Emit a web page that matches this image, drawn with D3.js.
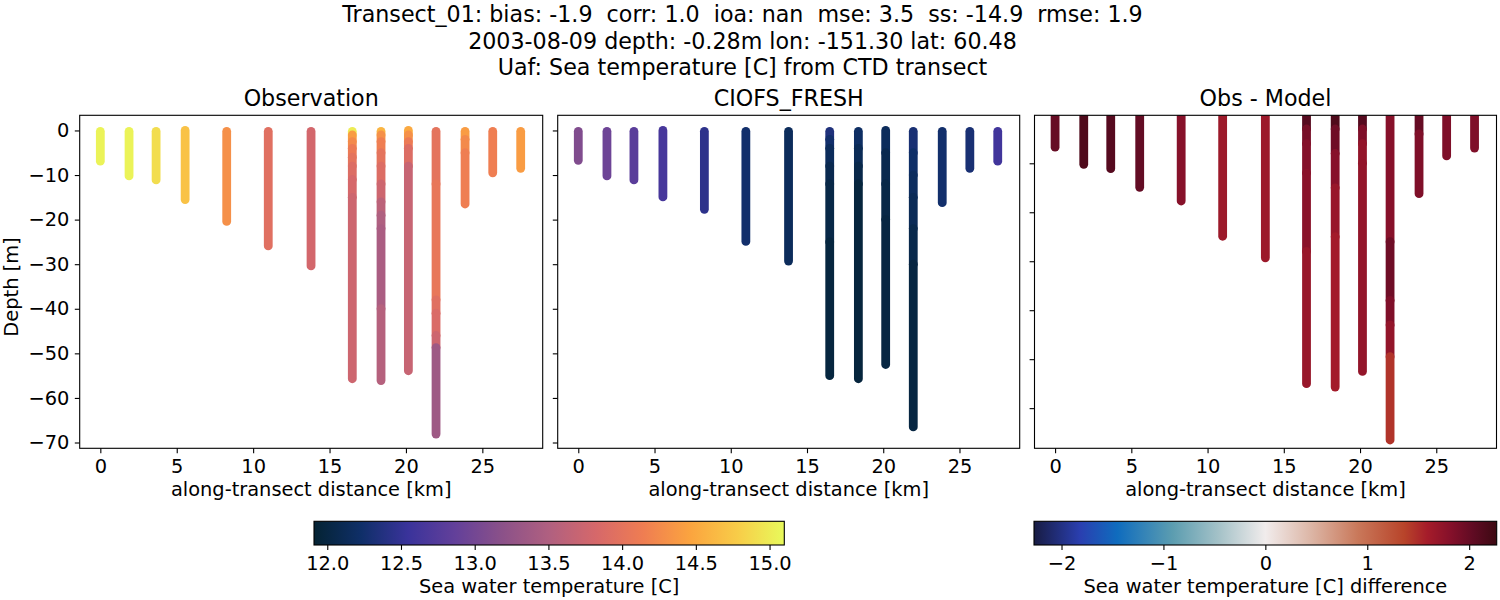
<!DOCTYPE html>
<html>
<head>
<meta charset="utf-8">
<script src="https://cdn.jsdelivr.net/npm/d3@7"></script>
<style>
body { margin: 0; background: #fff; }
text { font-family: "DejaVu Sans"; fill: #000; white-space: pre; }
</style>
</head>
<body>
<div id="canvas"></div>
<script>
var width = 1500;
var height = 600;

const titleLines = [
  "Transect_01: bias: -1.9  corr: 1.0  ioa: nan  mse: 3.5  ss: -14.9  rmse: 1.9",
  "2003-08-09 depth: -0.28m lon: -151.30 lat: 60.48",
  "Uaf: Sea temperature [C] from CTD transect"
];

// along-transect distance of each cast [km]
const stationKm = [0, 1.88, 3.65, 5.55, 8.27, 10.99, 13.79, 16.49, 18.37, 20.16, 21.97, 23.87, 25.68, 27.51];
const surfaceDepth = [-0.2, -0.2, -0.2, 0, -0.2, -0.2, -0.2, -0.2, -0.2, 0, -0.2, -0.2, -0.2, -0.2];

// each cast is a list of [bottom of layer, value]
const obsCasts = [
  [[-6.9, 15.05]],
  [[-10.2, 15.05]],
  [[-11.1, 14.9]],
  [[-15.5, 14.7]],
  [[-20.4, 14.3]],
  [[-25.9, 13.95]],
  [[-30.4, 13.8]],
  [[-1, 15.0], [-2.5, 14.4], [-4, 14.25], [-6, 14.1], [-8, 14.0], [-11, 13.9], [-15, 13.82], [-55.7, 13.75]],
  [[-1, 14.6], [-2.5, 14.3], [-5, 14.15], [-8, 14.0], [-12, 13.9], [-16, 13.75], [-19, 13.6], [-22, 13.5], [-40, 13.45], [-56.1, 13.55]],
  [[-1, 14.5], [-2.5, 14.3], [-4, 14.1], [-8, 13.9], [-53.9, 13.7]],
  [[-12, 14.0], [-38, 14.05], [-41, 13.95], [-46, 13.87], [-48.7, 13.75], [-68.1, 13.35]],
  [[-2, 14.4], [-5, 14.25], [-16.5, 14.15]],
  [[-9.5, 14.15]],
  [[-8.5, 14.4]]
];

const modelCasts = [
  [[-6.7, 13.1]],
  [[-10.2, 12.95]],
  [[-11.1, 12.8]],
  [[-14.9, 12.65]],
  [[-17.7, 12.45]],
  [[-24.9, 12.25]],
  [[-29.3, 12.15]],
  [[-2, 12.35], [-4, 12.25], [-8, 12.15], [-12, 12.08], [-25, 12.03], [-55, 11.98]],
  [[-4, 12.2], [-8, 12.12], [-12, 12.05], [-55.7, 11.97]],
  [[-5, 12.15], [-12, 12.08], [-20, 12.03], [-52.5, 12.0]],
  [[-5, 12.3], [-10, 12.22], [-15, 12.17], [-22, 12.12], [-30, 12.06], [-66.5, 12.0]],
  [[-16.2, 12.25]],
  [[-8.5, 12.3]],
  [[-6.9, 12.6]]
];

const diffCasts = [
  [[-6.7, 2.0]],
  [[-10.2, 2.15]],
  [[-11.1, 2.1]],
  [[-14.9, 2.02]],
  [[-17.7, 1.8]],
  [[-24.9, 1.65]],
  [[-29.3, 1.65]],
  [[-3, 2.1], [-6, 1.9], [-12, 1.82], [-28, 1.78], [-55, 1.68]],
  [[-3, 2.15], [-8, 1.95], [-15, 1.8], [-25, 1.68], [-55.7, 1.6]],
  [[-3, 2.1], [-6, 1.85], [-10, 1.72], [-52.5, 1.72]],
  [[-26, 1.8], [-38, 1.95], [-43, 1.85], [-49.5, 1.72], [-66.5, 1.45]],
  [[-4, 2.0], [-16.2, 1.85]],
  [[-8.5, 1.85]],
  [[-6.9, 1.85]]
];

const panelTitles = ["Observation", "CIOFS_FRESH", "Obs - Model"];
const xTicks = [0, 5, 10, 15, 20, 25];
const depthTicks = [0, -10, -20, -30, -40, -50, -60, -70];
const diffDepthTicks = [-10, -20, -30, -40, -50, -60];
const tempTicks = [12, 12.5, 13, 13.5, 14, 14.5, 15];
const diffTicks = [-2, -1, 0, 1, 2];

// colormap tables
const thermalStops = [0, 0.1, 0.2, 0.3, 0.4, 0.5, 0.6, 0.7, 0.8, 0.9, 1];
const thermalColors = ["#042333", "#0f2f68", "#3a339b", "#63409a", "#8b5189", "#b06080", "#d6686a", "#ef7d52", "#fba43f", "#f8cc48", "#e8fa5b"];
const balanceStops = [0, 0.1, 0.18, 0.3, 0.4, 0.5, 0.6, 0.7, 0.8, 0.85, 0.9, 0.95, 1];
const balanceColors = ["#181c43", "#2a3fb0", "#0f6cbe", "#5c9db0", "#a5c2c8", "#f1ecec", "#dcb5a5", "#c9785a", "#b8442a", "#a51c2a", "#85102a", "#5f0b23", "#3c0912"];

const tempDomain = [11.91, 15.10];
const diffDomain = [-2.27, 2.27];

const tempColor = d3.scaleLinear()
  .domain(thermalStops.map(d3.interpolate(tempDomain[0], tempDomain[1])))
  .range(thermalColors);
const diffColor = d3.scaleLinear()
  .domain(balanceStops.map(d3.interpolate(diffDomain[0], diffDomain[1])))
  .range(balanceColors);

var svg = d3.select("#canvas").append("svg")
  .attr("width", width)
  .attr("height", height)
  .style("display", "block");

const minus = s => String(s).replace("-", "\u2212");
const tickFont = "19.4px";
const labelFont = "19.4px";
const titleFont = "22.2px";

svg.append("g").selectAll("text")
  .data(titleLines)
  .enter().append("text")
  .attr("x", 742.5)
  .attr("y", (d, i) => 22 + i * 26.5)
  .attr("text-anchor", "middle")
  .style("font-size", titleFont)
  .text(d => d);

const axTop = 115.3, axBottom = 448.3;
const panels = [
  { left: 79.7, right: 542.7, casts: obsCasts, color: tempColor, yDomain: [-71.3, 3.4], ticks: depthTicks, labels: true },
  { left: 557.7, right: 1019.7, casts: modelCasts, color: tempColor, yDomain: [-71.3, 3.4], ticks: depthTicks, labels: false },
  { left: 1034.5, right: 1496.5, casts: diffCasts, color: diffColor, yDomain: [-68.2, -0.2], ticks: diffDepthTicks, labels: false }
];

panels.forEach(function(p, pi) {
  const x = d3.scaleLinear().domain([-1.35, 28.95]).range([p.left, p.right]);
  const y = d3.scaleLinear().domain(p.yDomain).range([axBottom, axTop]);
  const g = svg.append("g");

  svg.append("clipPath").attr("id", "clip" + pi)
    .append("rect")
    .attr("x", p.left).attr("y", axTop)
    .attr("width", p.right - p.left).attr("height", axBottom - axTop);

  // one rounded stroke per layer, deeper layers painted over shallower ones
  const layers = [];
  p.casts.forEach(function(cast, i) {
    let from = surfaceDepth[i];
    cast.forEach(function(layer) {
      layers.push({ km: stationKm[i], from: from, to: layer[0], value: layer[1] });
      from = layer[0];
    });
  });

  g.append("g").attr("clip-path", "url(#clip" + pi + ")")
    .selectAll("line")
    .data(layers)
    .enter().append("line")
    .attr("x1", d => x(d.km))
    .attr("x2", d => x(d.km))
    .attr("y1", d => y(d.from))
    .attr("y2", d => y(d.to))
    .attr("stroke", d => p.color(d.value))
    .attr("stroke-width", 8.8)
    .attr("stroke-linecap", "round");

  const xAxis = g.append("g")
    .attr("transform", "translate(0," + axBottom + ")")
    .call(d3.axisBottom(x).tickValues(xTicks).tickSize(4.9).tickPadding(6).tickFormat(d3.format("d")));
  const yAxis = g.append("g")
    .attr("transform", "translate(" + p.left + ",0)")
    .call(d3.axisLeft(y).tickValues(p.ticks).tickSize(4.9).tickPadding(5.5)
      .tickFormat(d => p.labels ? minus(d) : ""));
  [xAxis, yAxis].forEach(function(a) {
    a.select(".domain").remove();
    a.selectAll("line").attr("stroke", "#000").attr("stroke-width", 1.1);
    a.selectAll("text").style("font-size", tickFont).style("font-family", "DejaVu Sans");
  });

  g.append("rect")
    .attr("x", p.left).attr("y", axTop)
    .attr("width", p.right - p.left).attr("height", axBottom - axTop)
    .attr("fill", "none").attr("stroke", "#000").attr("stroke-width", 1.1);

  g.append("text")
    .attr("x", (p.left + p.right) / 2).attr("y", 106)
    .attr("text-anchor", "middle")
    .style("font-size", titleFont)
    .text(panelTitles[pi]);

  g.append("text")
    .attr("x", (p.left + p.right) / 2).attr("y", 496)
    .attr("text-anchor", "middle")
    .style("font-size", labelFont)
    .text("along-transect distance [km]");
});

svg.append("text")
  .attr("transform", "translate(18,287) rotate(-90)")
  .attr("text-anchor", "middle")
  .style("font-size", labelFont)
  .text("Depth [m]");

// colorbars
const defs = svg.append("defs");
const bars = [
  { id: "thermal", left: 314, right: 784.3, domain: tempDomain, stops: thermalStops, colors: thermalColors, ticks: tempTicks, fmt: d3.format(".1f"), label: "Sea water temperature [C]" },
  { id: "balance", left: 1034, right: 1496.7, domain: diffDomain, stops: balanceStops, colors: balanceColors, ticks: diffTicks, fmt: d3.format("d"), label: "Sea water temperature [C] difference" }
];

bars.forEach(function(b) {
  const grad = defs.append("linearGradient").attr("id", b.id);
  grad.selectAll("stop")
    .data(b.colors)
    .enter().append("stop")
    .attr("offset", (d, i) => b.stops[i])
    .attr("stop-color", d => d);

  const x = d3.scaleLinear().domain(b.domain).range([b.left, b.right]);
  const barTop = 521.3, barBottom = 545;
  svg.append("rect")
    .attr("x", b.left).attr("y", barTop)
    .attr("width", b.right - b.left).attr("height", barBottom - barTop)
    .attr("fill", "url(#" + b.id + ")")
    .attr("stroke", "#000").attr("stroke-width", 1.1);

  const a = svg.append("g")
    .attr("transform", "translate(0," + barBottom + ")")
    .call(d3.axisBottom(x).tickValues(b.ticks).tickSize(4.9).tickPadding(6).tickFormat(d => minus(b.fmt(d))));
  a.select(".domain").remove();
  a.selectAll("line").attr("stroke", "#000").attr("stroke-width", 1.1);
  a.selectAll("text").style("font-size", tickFont).style("font-family", "DejaVu Sans");

  svg.append("text")
    .attr("x", (b.left + b.right) / 2).attr("y", 593)
    .attr("text-anchor", "middle")
    .style("font-size", labelFont)
    .text(b.label);
});
</script>
</body>
</html>
